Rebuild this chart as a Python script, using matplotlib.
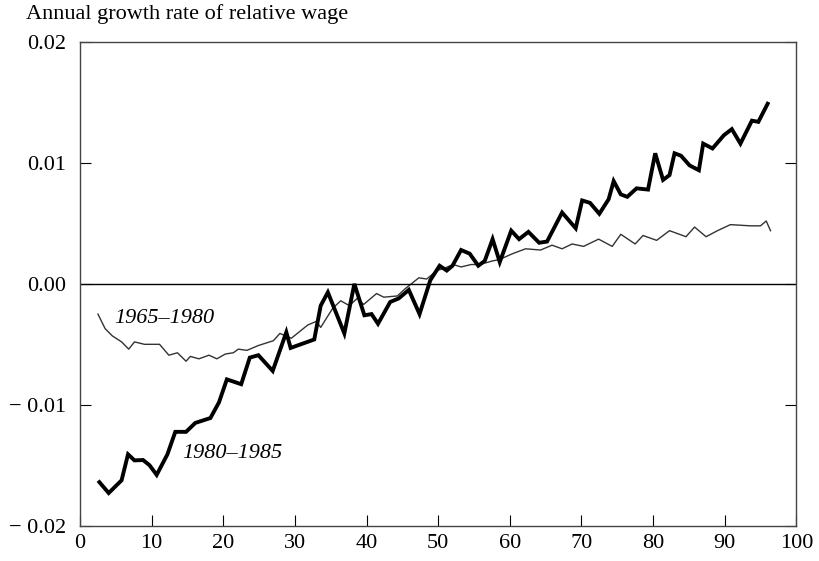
import matplotlib.pyplot as plt

# 1980-1985 (thick line)
x_80 = [2.7, 4.0, 5.8, 6.7, 7.6, 8.8, 9.7, 10.7, 12.2, 13.3, 14.8, 16.1, 18.2, 19.4,
        20.5, 22.5, 23.7, 24.9, 26.9, 28.8, 29.4, 32.7, 33.6, 34.6, 36.9, 38.3,
        39.7, 40.7, 41.6, 43.3, 44.5, 45.9, 47.4, 48.9, 50.2, 51.2, 52.0, 53.2,
        54.4, 55.6, 56.5, 57.6, 58.6, 60.2, 61.3, 62.6, 64.1, 65.2, 67.3, 69.2,
        70.1, 71.2, 72.5, 73.8, 74.5, 75.5, 76.4, 77.7, 79.3, 80.3, 81.4, 82.3,
        83.0, 83.9, 85.1, 86.4, 87.0, 88.3, 89.9, 91.0, 92.2, 93.8, 94.7, 96.0]
y_80 = [-0.0164, -0.0173, -0.01625, -0.0141, -0.0146, -0.01457, -0.0150, -0.0158,
        -0.0141, -0.01224, -0.01224, -0.0115, -0.0111, -0.0098,
        -0.0079, -0.0083, -0.0061, -0.0059, -0.0072, -0.0040, -0.0053, -0.0046,
        -0.0018, -0.0007, -0.0041, 0.0000,
        -0.0026, -0.0025, -0.0033, -0.0015, -0.0012, -0.0005, -0.0025, 0.0003,
        0.0015, 0.0011, 0.0015, 0.0028,
        0.0025, 0.0015, 0.0019, 0.0037, 0.0018, 0.0044, 0.0037, 0.0043, 0.0034,
        0.0035, 0.0059, 0.0046,
        0.0069, 0.0067, 0.0058, 0.0070, 0.0085, 0.0074, 0.0072, 0.0079, 0.0078,
        0.0108, 0.0086, 0.0090,
        0.0108, 0.0106, 0.0098, 0.0094, 0.0116, 0.0112, 0.0123, 0.0128, 0.0116,
        0.0135, 0.0134, 0.0149]

# 1965-1980 (thin line)
x_65 = [2.5, 3.5, 4.5, 5.8, 6.8, 7.6, 9.0, 11.1, 12.4, 13.6, 14.8, 15.4, 16.6,
        18.0, 19.1, 20.3, 21.4, 22.1, 23.3, 24.9, 27.0, 27.9, 29.5, 31.8, 33.0,
        33.6, 35.3, 36.4, 37.6, 38.7, 39.6, 41.4, 42.4, 44.3, 45.4, 47.3, 48.4,
        49.8, 50.9, 52.1, 53.2, 54.6, 55.8, 57.6, 58.5, 60.4, 62.2, 64.3, 65.9,
        67.3, 68.7, 70.3, 72.4, 74.3, 75.5, 77.5, 78.6, 80.5, 82.3, 84.6, 85.8,
        87.4, 89.0, 90.8, 93.6, 95.0, 95.8, 96.4]
y_65 = [-0.0025, -0.0037, -0.0043, -0.0048, -0.0054, -0.0048, -0.0050, -0.0050,
        -0.0059, -0.0057, -0.0064, -0.0060, -0.0062,
        -0.0059, -0.0062, -0.0058, -0.0057, -0.0054, -0.0055, -0.0051, -0.0047,
        -0.0041, -0.0045, -0.0034, -0.0031,
        -0.0036, -0.0020, -0.0014, -0.0018, -0.0012, -0.0017, -0.0008, -0.0011,
        -0.0010, -0.0004, 0.0005, 0.0004,
        0.0011, 0.0013, 0.0016, 0.0014, 0.0016, 0.0016, 0.0019, 0.0020, 0.0025,
        0.0029, 0.0028, 0.0032,
        0.0029, 0.0033, 0.0031, 0.0037, 0.0031, 0.0041, 0.0033, 0.0040, 0.0036,
        0.0044, 0.0039, 0.0047,
        0.0039, 0.0044, 0.0049, 0.0048, 0.0048, 0.0052, 0.0044]

xticks = [0, 10, 20, 30, 40, 50, 60, 70, 80, 90, 100]
yticks = [-0.02, -0.01, 0.0, 0.01, 0.02]
ytick_labels = ['\u2212 0.02', '\u2212 0.01', '0.00', '0.01', '0.02']

plt.rcParams['font.family'] = ['Liberation Serif', 'DejaVu Serif']

fig = plt.figure(figsize=(8.2, 5.61), dpi=100, facecolor='white')
ax = fig.add_axes([0.0976, 0.063, 0.8735, 0.862])

ax.plot(x_65, y_65, color='#333333', lw=1.0)
ax.plot(x_80, y_80, color='black', lw=2.8, solid_joinstyle='miter')
ax.axhline(0, color='black', lw=1.0)

ax.set_xlim(0, 100)
ax.set_ylim(-0.02, 0.02)
ax.set_xticks(xticks)
ax.set_xticklabels([str(t) for t in xticks])
ax.set_yticks(yticks)
ax.set_yticklabels(ytick_labels)
ax.tick_params(axis='both', direction='in', length=8, width=0.8,
               labelsize=16, colors='black')
ax.tick_params(axis='x', pad=6)
ax.tick_params(axis='y', pad=10, right=True)
for s in ax.spines.values():
    s.set_linewidth(1.0)
    s.set_color('#444444')

ax.text(4.8, -0.0029, '1965\u20131980', fontsize=16, style='italic',
        va='center', ha='left')
ax.text(14.3, -0.0140, '1980\u20131985', fontsize=16, style='italic',
        va='center', ha='left')

fig.text(0.032, 0.975, 'Annual growth rate of relative wage', fontsize=16,
         va='center', ha='left')

fig.savefig('out.png', dpi=100, facecolor='white')
